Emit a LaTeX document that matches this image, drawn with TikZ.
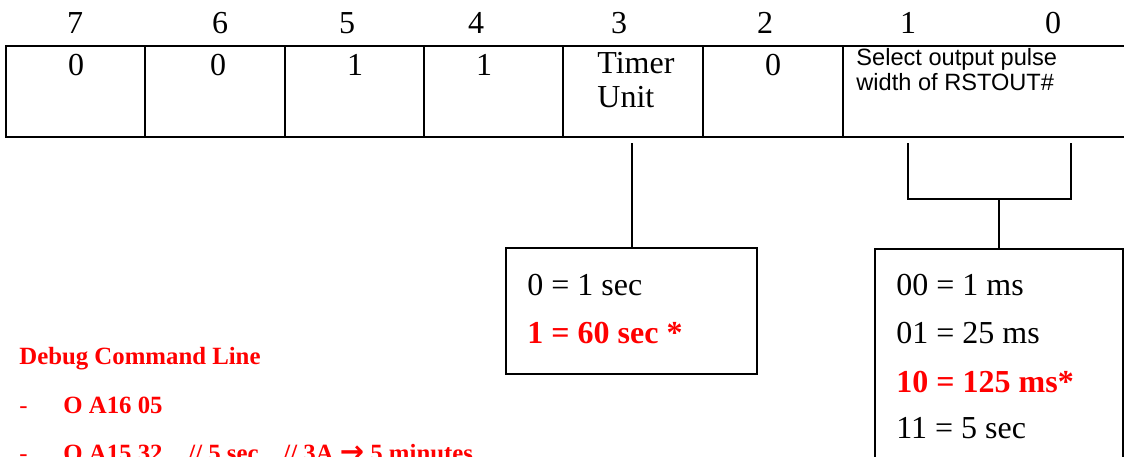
\documentclass[tikz,border=0pt]{standalone}
\usepackage{fontspec}
\setmainfont{Liberation Serif}
\newfontfamily\arialfont{Liberation Sans}
\newfontfamily\arrowfont{DejaVu Sans}
\definecolor{cmdred}{RGB}{255, 0, 0}
\usetikzlibrary{positioning, calc}

\begin{document}
\begin{tikzpicture}[x=0.5pt, y=-0.5pt,
  cell/.style={draw, line width=1pt, minimum height=45.5pt, inner sep=0pt},
  bitnum/.style={anchor=base, inner sep=0pt, font=\fontsize{16}{17}\selectfont},
  txt/.style={anchor=base west, inner sep=0pt, font=\fontsize{16}{17}\selectfont},
  hot/.style={txt, text=cmdred, font=\fontsize{16}{17}\selectfont\bfseries},
  note/.style={anchor=base west, inner sep=0pt, font=\arialfont\fontsize{11.8}{13}\selectfont},
  dbg/.style={anchor=base west, inner sep=0pt, text=cmdred, font=\fontsize{12.4}{14}\selectfont\bfseries},
  valbox/.style={draw, line width=0.85pt, inner sep=0pt},
  conn/.style={line width=0.65pt}
]
  \useasboundingbox (0,0) rectangle (1124,456);
  \clip (0,0) rectangle (1124,456);

  \foreach \x/\b in {75/7, 220/6, 347/5, 476/4, 619/3, 765/2, 908/1, 1053/0}
    \node[bitnum] (b\b) at (\x,33) {\b};

  \foreach \n/\l/\r in {7/6/145, 6/145/285, 5/285/424, 4/424/563, 3/563/703, 2/703/843, 10/843/1140}
    \node[cell, minimum width={(\r-\l)*0.5pt}] (c\n) at ({(\l+\r)/2}, 91.5) {};

  \node[bitnum] (v7) at (76,75) {0};
  \node[bitnum] (v6) at (218,75) {0};
  \node[bitnum] (v5) at (355,75) {1};
  \node[bitnum] (v4) at (484,75) {1};
  \node[txt] (v3a) at (597,73) {Timer};
  \node[txt] (v3b) at (597,107) {Unit};
  \node[bitnum] (v2) at (773,75) {0};
  \node[note] (v10a) at (856,65) {Select output pulse};
  \node[note] (v10b) at (856,90) {width of RSTOUT\#};

  \node[valbox, minimum width=125.5pt, minimum height=63pt] (tbox) at (631.5,311) {};
  \node[txt] (t0) at (527,295) {0 = 1 sec};
  \node[hot] (t1) at (527,343) {1 = 60 sec *};

  \node[valbox, minimum width=124pt, minimum height=120pt] (pbox) at (999,369) {};
  \node[txt] (p00) at (896,295) {00 = 1 ms};
  \node[txt] (p01) at (896,343) {01 = 25 ms};
  \node[hot] (p10) at (896,392) {10 = 125 ms*};
  \node[txt] (p11) at (896,438) {11 = 5 sec};

  \coordinate (tk) at (632,143);
  \draw[conn] (tk) -- (tk |- tbox.north);

  \coordinate (k1) at (908,143);
  \coordinate (k0) at (1071,143);
  \coordinate (kmid) at (999,199);
  \draw[conn] (k1) |- (kmid) -| (k0);
  \draw[conn] (kmid) -- (pbox.north);

  \node[dbg] (dtitle) at (19,364) {Debug Command Line};
  \node[dbg, font=\fontsize{12.4}{14}\selectfont] (dash1) at (19,413) {-};
  \node[dbg] (cmd1) at (63,413) {O A16 05};
  \node[dbg, font=\fontsize{12.4}{14}\selectfont] (dash2) at (19,461) {-};
  \node[dbg] (cmd2) at (63,461) {O A15 32};
  \node[dbg] (cmt1) at (188,461) {// 5 sec};
  \node[dbg] (cmt2) at (283,461) {// 3A {\arrowfont\bfseries\fontsize{14.5}{15}\selectfont →} 5 minutes};
\end{tikzpicture}
\end{document}
